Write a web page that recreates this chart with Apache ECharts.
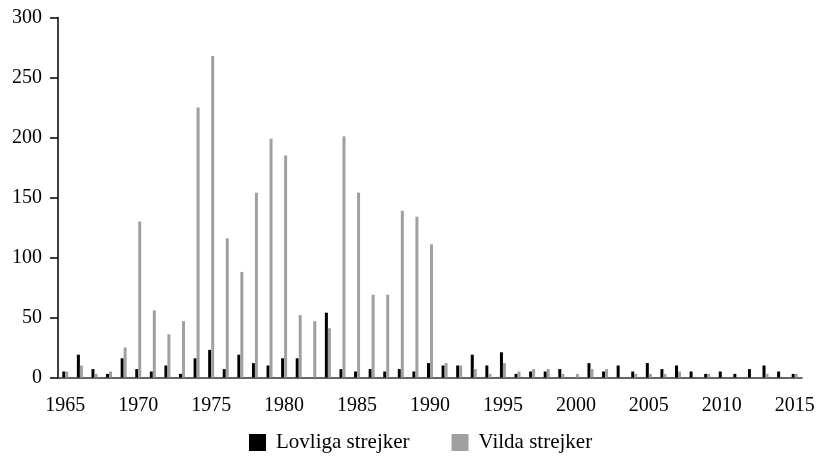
<!DOCTYPE html>
<html>
<head>
<meta charset="utf-8">
<script src="https://cdn.jsdelivr.net/npm/echarts@6/dist/echarts.min.js"></script>
<style>
html,body{margin:0;padding:0;background:#fff;}
#c{width:819px;height:470px;}
</style>
</head>
<body>
<div id="c"></div>
<script>
var years = [];
for (var y = 1965; y <= 2015; y++) years.push(String(y));

var lovliga = [5,19,7,3,16,7,5,10,3,16,23,7,19,12,10,16,16,0,54,7,5,7,5,7,5,12,10,10,19,10,21,3,5,5,7,0,12,5,10,5,12,7,10,5,3,5,3,7,10,5,3];
var vilda = [5,10,3,5,25,130,56,36,47,225,268,116,88,154,199,185,52,47,41,201,154,69,69,139,134,111,12,10,7,3,12,5,7,7,3,3,7,7,0,3,3,3,5,0,3,0,0,0,3,0,3];

var seriesNames = ['Lovliga strejker', 'Vilda strejker'];
var yTicks = [0, 50, 100, 150, 200, 250, 300];

var font = '"Liberation Serif", "DejaVu Serif", serif';
var chart = echarts.init(document.getElementById('c'));
chart.setOption({
  animation: false,
  backgroundColor: '#fff',
  grid: {left: 58, right: 17, top: 17.5, bottom: 92.5, containLabel: false},
  legend: {
    data: seriesNames,
    left: 249, top: 432, padding: 0,
    icon: 'rect', itemWidth: 17, itemHeight: 17, itemGap: 42,
    textStyle: {fontFamily: font, fontSize: 21, color: '#000', padding: [0,0,0,5]}
  },
  xAxis: {
    type: 'category',
    data: years,
    boundaryGap: true,
    axisLine: {lineStyle: {color: '#333', width: 1.5}},
    axisTick: {show: false},
    axisLabel: {interval: 4, fontFamily: font, fontSize: 20, color: '#000', margin: 18}
  },
  yAxis: {
    type: 'value',
    min: yTicks[0], max: yTicks[yTicks.length-1], interval: 50,
    axisLine: {show: true, lineStyle: {color: '#000', width: 1.5}},
    axisTick: {show: true, inside: false, length: 8, lineStyle: {color: '#000', width: 1.5}},
    splitLine: {show: false},
    axisLabel: {fontFamily: font, fontSize: 20, color: '#000', margin: 16}
  },
  series: [
    {name: seriesNames[0], type: 'bar', data: lovliga, barWidth: 3, barGap: '0%', itemStyle: {color: '#000'}},
    {name: seriesNames[1], type: 'bar', data: vilda, barWidth: 3, barGap: '0%', itemStyle: {color: '#a0a0a0'}}
  ]
});
</script>
</body>
</html>
